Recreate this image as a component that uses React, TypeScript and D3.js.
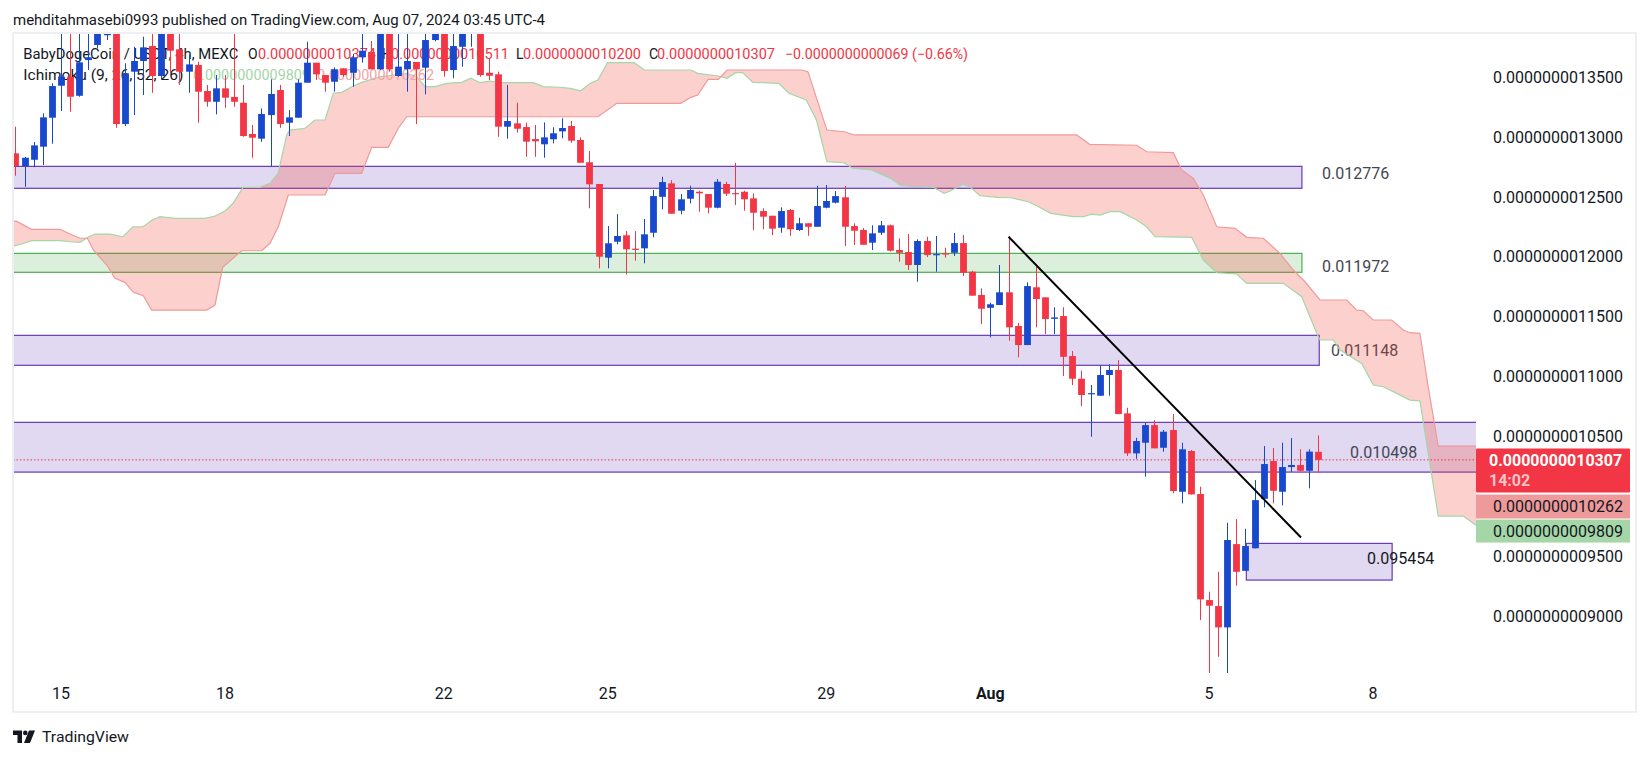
import React, { useEffect } from 'react';
import * as d3 from 'd3';

// Prices are stored in units of 1e-13 (13500 -> 0.0000000013500)
const PRICE_UNIT = 1e-13;
const FIRST_BAR = -5; // bar index 0 = Jul 15 00:00, 4h bars

const opens = [
  12865, 12759, 12811, 12920, 13162, 13429, 13504, 13345, 13643, 13769,
  13850, 14000, 13109, 13546, 13635, 13760, 13510, 13950, 13733, 13546,
  13602, 13385, 13295, 13407, 13335, 13287, 13026, 12987, 13184, 13393,
  13120, 13162, 13454, 13621, 13518, 13462, 13574, 13537, 13666, 13710,
  13566, 13950, 13510, 13566, 13627, 13579, 13810, 13950, 13560, 13754,
  13870, 13950, 13537, 13524, 13087, 13115, 13084, 12984, 12940, 12982,
  13048, 13093, 12976, 12790, 12609, 11994, 12127, 12181, 12069, 12072,
  12202, 12502, 12614, 12386, 12486, 12544, 12525, 12411, 12609, 12533,
  12544, 12489, 12383, 12344, 12244, 12392, 12225, 12281, 12252, 12411,
  12453, 12498, 12258, 12225, 12119, 12202, 12264, 12058, 12041, 11933,
  12133, 12019, 12030, 12035, 12116, 11877, 11683, 11576, 11599, 11705,
  11424, 11265, 11747, 11663, 11484, 11507, 11173, 10984, 10858, 10842,
  11015, 11057, 10695, 10361, 10450, 10597, 10408, 10556, 10041, 10381,
  10022, 9137, 9087, 8909, 9604, 9381, 9569, 9982, 10297, 10041,
  10247, 10264, 10216, 10374,
];
const highs = [
  13087, 12835, 12959, 13199, 13449, 13900, 13900, 13900, 13900, 14000,
  14100, 14050, 13616, 13754, 13838, 13860, 14000, 14000, 13900, 13685,
  13629, 13435, 13518, 13518, 13860, 13435, 13101, 13240, 13482, 13435,
  13226, 13482, 13796, 13621, 13518, 13582, 13574, 13694, 13860, 13802,
  14000, 14000, 13900, 13860, 13627, 13900, 13950, 14000, 13900, 14000,
  14000, 14000, 13658, 13546, 13435, 13287, 13120, 13101, 13123, 13082,
  13157, 13134, 12998, 12884, 12609, 12258, 12358, 12216, 12216, 12317,
  12559, 12669, 12642, 12525, 12594, 12553, 12525, 12650, 12628, 12786,
  12553, 12531, 12406, 12344, 12414, 12400, 12327, 12281, 12594, 12600,
  12550, 12592, 12281, 12241, 12264, 12300, 12270, 12155, 12191, 12147,
  12169, 12175, 12077, 12200, 12183, 11885, 11738, 11618, 11933, 12169,
  11451, 11788, 11919, 11663, 11580, 11580, 11215, 11051, 10931, 11096,
  11104, 11140, 10742, 10491, 10617, 10639, 10556, 10689, 10450, 10389,
  10083, 9207, 9373, 9782, 9813, 9732, 10138, 10422, 10406, 10450,
  10489, 10395, 10395, 10511,
];
const lows = [
  12678, 12586, 12750, 12767, 12945, 13218, 13212, 13337, 13560, 13740,
  13810, 13078, 13093, 13184, 13351, 13370, 13480, 13532, 13435, 13370,
  13120, 13254, 13190, 13245, 13254, 13003, 12828, 12962, 12756, 13078,
  13009, 13162, 13454, 13477, 13379, 13379, 13504, 13421, 13621, 13566,
  13560, 13546, 13504, 13379, 13109, 13357, 13800, 13504, 13491, 13588,
  13754, 13504, 13477, 13003, 12987, 13037, 12836, 12836, 12828, 12948,
  12990, 12953, 12786, 12406, 11905, 11905, 12105, 11855, 11969, 11947,
  12164, 12397, 12361, 12356, 12447, 12377, 12364, 12406, 12508, 12433,
  12386, 12225, 12231, 12183, 12202, 12177, 12217, 12177, 12252, 12406,
  12447, 12091, 12100, 12102, 12058, 12183, 12045, 11960, 11891, 11793,
  11999, 11877, 11994, 12008, 11841, 11677, 11440, 11329, 11599, 11301,
  11162, 11265, 11413, 11357, 11357, 11007, 10931, 10756, 10500, 10842,
  10842, 10689, 10339, 10316, 10166, 10403, 10375, 10028, 9944, 10017,
  8970, 8480, 8664, 8480, 9257, 9381, 9569, 9911, 9944, 9927,
  10205, 10208, 10069, 10200,
];
const closes = [
  12759, 12828, 12931, 13165, 13426, 13504, 13337, 13624, 13666, 13950,
  14050, 13109, 13532, 13635, 13749, 13510, 13950, 13721, 13546, 13607,
  13379, 13295, 13407, 13329, 13295, 13009, 12995, 13193, 13360, 13109,
  13165, 13454, 13621, 13524, 13454, 13566, 13518, 13666, 13721, 13566,
  13950, 13566, 13588, 13635, 13566, 13810, 13900, 13552, 13760, 13950,
  13950, 13518, 13512, 13087, 13134, 13070, 12962, 12965, 12998, 13032,
  13076, 12970, 12786, 12606, 12002, 12114, 12175, 12064, 12061, 12189,
  12508, 12625, 12361, 12481, 12559, 12531, 12411, 12628, 12528, 12528,
  12481, 12369, 12336, 12236, 12383, 12231, 12281, 12252, 12425, 12467,
  12508, 12252, 12219, 12102, 12197, 12264, 12052, 12035, 11933, 12133,
  12016, 12024, 12024, 12116, 11868, 11677, 11568, 11605, 11705, 11413,
  11265, 11757, 11649, 11482, 11496, 11167, 10984, 10848, 10864, 11015,
  11057, 10689, 10361, 10464, 10597, 10403, 10542, 10047, 10395, 10019,
  9143, 9090, 8909, 9638, 9373, 9588, 9971, 10272, 10049, 10247,
  10264, 10216, 10376, 10307,
];

// Ichimoku leading spans (bar, value) vertices
const spanABars = [
  -5.5, -4.28, -3.22, -0.11, 0.99, 2.09, 2.96, 3.73, 5.38, 6.8, 7.9, 9.0, 9.99, 10.87, 12.51, 15.8,
  16.9, 18.0, 18.88, 19.98, 21.84, 22.94, 23.82, 24.4, 24.77, 25.13, 26.78, 27.88, 28.98, 29.89,
  30.81, 31.91, 33.0, 35.01, 37.94, 39.04, 39.95, 41.05, 42.33, 43.98, 44.97, 45.99, 47.08, 48.18,
  51.84, 52.94, 54.77, 55.9, 57.04, 58.09, 58.93, 59.98, 62.89, 64.03, 69.14, 69.88, 72.15, 73.1,
  74.04, 74.8, 75.93, 78.77, 79.9, 81.79, 82.92, 84.06, 85.95, 86.89, 88.97, 91.05, 92.18, 94.83,
  95.77, 96.92, 97.66, 98.99, 99.75, 100.88, 102.77, 104.28, 106.17, 107.3, 108.63, 111.11, 112.21,
  113.13, 114.04, 115.14, 116.24, 118.07, 119.16, 120.08, 124.1, 125.38, 126.85, 129.04, 130.14,
  134.16, 136.18, 137.82, 138.18, 139.64, 140.38, 142.76, 144.03, 145.13, 146.6, 148.05, 149.15,
  149.89, 151.16, 153.9, 155.3, 160, 163,
];
const spanAValues = [
  12086, 12108, 12136, 12136, 12127, 12122, 12164, 12191, 12191, 12169, 12252, 12252, 12308, 12336, 12322, 12322,
  12342, 12383, 12448, 12581, 12581, 12615, 12698, 12892, 13018, 13059, 13074, 13143, 13143, 13366,
  13374, 13421, 13457, 13504, 13532, 13504, 13421, 13421, 13449, 13457, 13491, 13454, 13468, 13454,
  13454, 13421, 13416, 13407, 13387, 13449, 13477, 13621, 13621, 13560, 13560, 13532, 13510, 13491,
  13538, 13538, 13457, 13449, 13366, 13310, 13143, 12795, 12786, 12740, 12726, 12656, 12595, 12586,
  12581, 12531, 12553, 12606, 12586, 12511, 12498, 12494, 12461, 12419, 12364, 12336, 12336,
  12358, 12350, 12378, 12378, 12308, 12252, 12169, 12164, 11974, 11868, 11858, 11780,
  11780, 11668, 11363, 11307, 11307, 11223, 11112, 10931, 10917, 10862, 10806, 10800,
  10445, 9838, 9838, 9763, 9763, 9809,
];
const spanBBars = [
  -5.5, -4.86, -3.22, -0.11, 0.99, 2.09, 2.89, 3.55, 5.02, 5.93, 7.02, 7.94, 9.03, 9.95, 15.99, 16.9,
  17.75, 19.83, 22.03, 22.94, 23.85, 24.95, 28.98, 30.07, 33.0, 34.1, 35.92, 37.02, 37.94, 58.93,
  61.0, 68.0, 69.14, 69.88, 71.02, 72.15, 73.1, 81.22, 81.98, 84.06, 85.95, 87.08, 111.46, 112.9,
  118.06, 119.16, 122.08, 123.0, 124.28, 125.38, 126.85, 128.86, 130.14, 131.96, 133.79, 135.25,
  136.54, 138.18, 141.11, 142.21, 142.93, 144.03, 146.05, 147.32, 148.05, 149.15, 150.06, 151.16,
  160, 163,
];
const spanBValues = [
  12303, 12297, 12231, 12231, 12192, 12156, 12156, 12058, 11933, 11822, 11788, 11705, 11677, 11557, 11557, 11599,
  11914, 12052, 12052, 12114, 12252, 12517, 12517, 12698, 12698, 12915, 12915, 13074, 13170, 13170,
  13282, 13282, 13332, 13351, 13482, 13482, 13560, 13560, 13546, 13059, 13045, 13018, 13018, 12940,
  12932, 12878, 12870, 12725, 12656, 12517, 12252, 12239, 12164, 12156, 12030, 11891,
  11793, 11641, 11641, 11557, 11551, 11474, 11474, 11390, 11368, 11363, 10917, 10422,
  10422, 10262,
];

// Drawn zones (rectangles)
const zoneTops = [12756, 12030, 11346, 10620, 9610];
const zoneBottoms = [12573, 11872, 11096, 10205, 9304];
const zoneStartBars = [-7, -7, -7, -7, 130.1];
const zoneEndBars = [136.2, 136.2, 138.1, 170, 146.1];
const zoneLabels = ['0.012776', '0.011972', '0.011148', '0.010498', '0.095454'];
const zoneKinds = ['purple', 'green', 'purple', 'purple', 'purple'];

// Trend line
const trendBars = [104, 136.1];
const trendValues = [12169, 9659];

// Axes
const timeTickBars = [0, 18, 42, 60, 84, 102, 126, 144];
const timeTickLabels = ['15', '18', '22', '25', '29', 'Aug', '5', '8'];
const priceTicks = [13500, 13000, 12500, 12000, 11500, 11000, 10500, 9500, 9000];

const leadAValue = 9809;
const leadBValue = 10262;
const countdown = '14:02';

// ---------- layout / style ----------
const W = 1649;
const H = 758;
const PLOT = { left: 13, top: 33, right: 1476, bottom: 673 };
const FONT = "Roboto, 'Noto Sans', Arial, sans-serif";
const RED = '#f23645';
const BLUE = '#1848cc';
const TEXT = '#131722';
const zoneStyle: Record<string, { fill: string; stroke: string }> = {
  purple: { fill: 'rgba(103,58,183,0.2)', stroke: '#673ab7' },
  green: { fill: 'rgba(76,175,80,0.2)', stroke: '#4caf50' },
};
const zoneLabelX = [1322, 1322, 1331, 1350, 1367];
const zoneLabelDy = [-4, 4, 0, 5, -3];

const fmt = (v: number) => (v * PRICE_UNIT).toFixed(13);

export default function App() {
  useEffect(() => {
    document.body.style.margin = '0';
    document.body.style.overflow = 'hidden';
  }, []);

  const x = d3.scaleLinear().domain([0, 144]).range([61, 1373]);
  const y = d3.scaleLinear().domain([9000, 13500]).range([616.5, 77.2]);

  const n = closes.length;
  const lastClose = closes[n - 1];
  const prevClose = closes[n - 2];
  const change = lastClose - prevClose;
  const changePct = (change / prevClose) * 100;

  const aPts: [number, number][] = spanABars.map((b, i) => [x(b), y(spanAValues[i])]);
  const bPts: [number, number][] = spanBBars.map((b, i) => [x(b), y(spanBValues[i])]);
  const lineGen = d3.line<[number, number]>().x((d) => d[0]).y((d) => d[1]);
  const cloudPath = lineGen([...aPts, ...bPts.slice().reverse()]) + 'Z';

  const bodyW = 6.8;

  // price label stack
  const redTop = y(lastClose) - 11.3;
  const redBottom = redTop + 44;
  const pinkTop = redBottom + 2;
  const pinkBottom = pinkTop + 24;
  const greenTop = pinkBottom + 1;
  const greenBottom = greenTop + 23;
  const labelLeft = PLOT.right;
  const labelRight = 1630;

  const sign = change < 0 ? '\u2212' : '+';

  return (
    <svg
      width={W}
      height={H}
      viewBox={`0 0 ${W} ${H}`}
      style={{ position: 'absolute', left: 0, top: 0, background: '#fff', fontFamily: FONT }}
    >
      <defs>
        <clipPath id="plotClip">
          <rect x={PLOT.left + 1} y={PLOT.top + 1} width={PLOT.right - PLOT.left - 1} height={PLOT.bottom - PLOT.top - 1} />
        </clipPath>
      </defs>
      <rect x={0} y={0} width={W} height={H} fill="#fff" />

      {/* header */}
      <text x={13} y={20.7} dominantBaseline="central" fontSize={14.5} fill={TEXT} textLength={532} lengthAdjust="spacingAndGlyphs">
        mehditahmasebi0993 published on TradingView.com, Aug 07, 2024 03:45 UTC-4
      </text>

      {/* frame */}
      <rect x={13} y={33} width={1623} height={679} fill="none" stroke="#e9eaf0" strokeWidth={1.5} />

      <g clipPath="url(#plotClip)">
        {/* zones */}
        {zoneTops.map((t, i) => {
          const st = zoneStyle[zoneKinds[i]];
          const x0 = x(zoneStartBars[i]);
          const x1 = x(zoneEndBars[i]);
          return (
            <rect key={'z' + i} x={x0} y={y(t)} width={x1 - x0} height={y(zoneBottoms[i]) - y(t)} fill={st.fill} stroke={st.stroke} strokeWidth={1.2} />
          );
        })}
        {zoneLabels.map((lab, i) => (
          <text key={'zl' + i} x={zoneLabelX[i]} y={(y(zoneTops[i]) + y(zoneBottoms[i])) / 2 + zoneLabelDy[i]} dominantBaseline="central" fontSize={16} fill={i === 4 ? '#131722' : '#434651'}>
            {lab}
          </text>
        ))}

        {/* ichimoku cloud */}
        <path d={cloudPath} fill="rgba(244,67,54,0.25)" fillRule="nonzero" stroke="none" />
        <path d={lineGen(aPts) || ''} fill="none" stroke="#a5d6a7" strokeWidth={1.2} />
        <path d={lineGen(bPts) || ''} fill="none" stroke="#ef9a9a" strokeWidth={1.2} />

        {/* current price dotted line */}
        <line x1={PLOT.left} x2={PLOT.right} y1={y(lastClose)} y2={y(lastClose)} stroke={RED} strokeWidth={1} strokeDasharray="1.5 2" />
      </g>

      {/* legend */}
      <g fontSize={14} dominantBaseline="central">
        <text x={23.3} y={54} fill={TEXT} textLength={215} lengthAdjust="spacingAndGlyphs">BabyDogeCoin / USDT, 4h, MEXC</text>
        <text x={248} y={54} fill={TEXT}>O</text>
        <text x={258} y={54} fill={RED} textLength={118} lengthAdjust="spacingAndGlyphs">{fmt(opens[n - 1])}</text>
        <text x={382} y={54} fill={TEXT}>H</text>
        <text x={391} y={54} fill={RED} textLength={118} lengthAdjust="spacingAndGlyphs">{fmt(highs[n - 1])}</text>
        <text x={516} y={54} fill={TEXT}>L</text>
        <text x={523} y={54} fill={RED} textLength={118} lengthAdjust="spacingAndGlyphs">{fmt(lows[n - 1])}</text>
        <text x={649} y={54} fill={TEXT}>C</text>
        <text x={657} y={54} fill={RED} textLength={118} lengthAdjust="spacingAndGlyphs">{fmt(lastClose)}</text>
        <text x={785} y={54} fill={RED} textLength={183} lengthAdjust="spacingAndGlyphs">
          {sign + fmt(Math.abs(change)) + ' (' + sign + Math.abs(changePct).toFixed(2) + '%)'}
        </text>
        <text x={23.3} y={75} fill={TEXT} textLength={160} lengthAdjust="spacingAndGlyphs">Ichimoku (9, 26, 52, 26)</text>
        <text x={193} y={75} fill="#a5d6a7" textLength={117} lengthAdjust="spacingAndGlyphs">{fmt(leadAValue)}</text>
        <text x={317} y={75} fill="#f4a3a3" textLength={117} lengthAdjust="spacingAndGlyphs">{fmt(leadBValue)}</text>
      </g>

      {/* candles */}
      <g clipPath="url(#plotClip)">
        {opens.map((o, k) => {
          const bar = FIRST_BAR + k;
          const c = closes[k];
          const col = c >= o ? BLUE : RED;
          const cx = Math.round(x(bar)) + 0.5;
          const yt = y(Math.max(o, c));
          const yb = y(Math.min(o, c));
          return (
            <g key={'c' + k}>
              <line x1={cx} x2={cx} y1={y(highs[k])} y2={y(lows[k])} stroke={col} strokeWidth={1} />
              <rect x={cx - bodyW / 2} y={yt} width={bodyW} height={Math.max(1.2, yb - yt)} fill={col} />
            </g>
          );
        })}
        {/* trend line */}
        <line x1={x(trendBars[0])} y1={y(trendValues[0])} x2={x(trendBars[1])} y2={y(trendValues[1])} stroke="#000" strokeWidth={2} />
      </g>

      {/* price axis */}
      <g fontSize={16} fill={TEXT}>
        {priceTicks.map((p) => (
          <text key={'p' + p} x={1623} y={y(p)} textAnchor="end" dominantBaseline="central">
            {fmt(p)}
          </text>
        ))}
      </g>

      {/* price labels */}
      <rect x={labelLeft} y={redTop} width={labelRight - labelLeft} height={redBottom - redTop} fill={RED} rx={1} />
      <text x={1489} y={redTop + 12} dominantBaseline="central" fontSize={16} fontWeight="bold" fill="#fff">
        {fmt(lastClose)}
      </text>
      <text x={1489} y={redTop + 32} dominantBaseline="central" fontSize={16} fontWeight="bold" fill="#fbc4c8">
        {countdown}
      </text>
      <rect x={labelLeft} y={pinkTop} width={labelRight - labelLeft} height={pinkBottom - pinkTop} fill="#ef9a9a" />
      <text x={1623} y={(pinkTop + pinkBottom) / 2} textAnchor="end" dominantBaseline="central" fontSize={16} fill={TEXT}>
        {fmt(leadBValue)}
      </text>
      <rect x={labelLeft} y={greenTop} width={labelRight - labelLeft} height={greenBottom - greenTop} fill="#a5d6a7" />
      <text x={1623} y={(greenTop + greenBottom) / 2} textAnchor="end" dominantBaseline="central" fontSize={16} fill={TEXT}>
        {fmt(leadAValue)}
      </text>

      {/* time axis */}
      <g fontSize={16} fill={TEXT}>
        {timeTickBars.map((b, i) => (
          <text key={'t' + i} x={x(b)} y={693} textAnchor="middle" dominantBaseline="central" fontWeight={timeTickLabels[i] === 'Aug' ? 'bold' : 'normal'}>
            {timeTickLabels[i]}
          </text>
        ))}
      </g>

      {/* footer logo */}
      <g fill={TEXT}>
        <path d="M13 730.5 H22 V743 H17.5 V735 H13 Z" />
        <circle cx={25.3} cy={732.9} r={2.3} />
        <path d="M29 730.5 H35 L30 743 H24 Z" />
      </g>
      <text x={42} y={737} dominantBaseline="central" fontSize={15} fill={TEXT} textLength={87} lengthAdjust="spacingAndGlyphs">
        TradingView
      </text>
    </svg>
  );
}
